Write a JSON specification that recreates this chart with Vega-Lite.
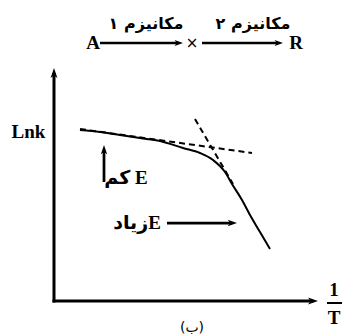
{
  "$schema": "https://vega.github.io/schema/vega-lite/v6.json",
  "width": 347,
  "height": 336,
  "padding": 0,
  "autosize": {"type": "fit", "contains": "padding"},
  "background": "white",
  "config": {"view": {"stroke": null}},
  "datasets": {
    "curve": [
      {"x": 2.6, "y": 17.1},
      {"x": 4.6, "y": 16.9},
      {"x": 6.6, "y": 16.6},
      {"x": 8.6, "y": 16.3},
      {"x": 10.6, "y": 16.0},
      {"x": 12.9, "y": 15.3},
      {"x": 14.6, "y": 14.8},
      {"x": 15.9, "y": 14.1},
      {"x": 17.1, "y": 12.9},
      {"x": 17.8, "y": 11.7},
      {"x": 18.8, "y": 10.1},
      {"x": 19.6, "y": 8.6},
      {"x": 20.6, "y": 6.9},
      {"x": 21.6, "y": 5.2}
    ],
    "tangents": [
      {"line": "low", "x": 2.6, "y": 17.2},
      {"line": "low", "x": 19.8, "y": 14.8},
      {"line": "high", "x": 14.1, "y": 18.2},
      {"line": "high", "x": 17.9, "y": 11.7}
    ],
    "arrows": [
      {"name": "lnk-axis", "kind": "axis", "dir": "up", "x1": 0, "y1": -0.15, "x2": 0, "y2": 23.3},
      {"name": "inv-t-axis", "kind": "axis", "dir": "right", "x1": -0.15, "y1": 0, "x2": 26.4, "y2": 0},
      {"name": "low-e", "kind": "note", "dir": "up", "x1": 5.0, "y1": 11.9, "x2": 5.0, "y2": 15.6},
      {"name": "high-e", "kind": "note", "dir": "right", "x1": 11.3, "y1": 7.8, "x2": 18.3, "y2": 7.8},
      {"name": "step-1", "kind": "title", "dir": "right", "x1": 4.6, "y1": 25.8, "x2": 12.9, "y2": 25.8},
      {"name": "step-2", "kind": "title", "dir": "right", "x1": 14.8, "y1": 25.8, "x2": 22.9, "y2": 25.8}
    ],
    "fraction": [{"x1": 27.3, "x2": 28.8, "y": -0.2}],
    "labels": [
      {"role": "latin", "text": "A", "x": 3.9, "y": 25.8},
      {"role": "latin", "text": "R", "x": 24.2, "y": 25.8},
      {"role": "latin", "text": "Lnk", "x": -2.55, "y": 16.9},
      {"role": "latin", "text": "1", "x": 28.0, "y": 1.1},
      {"role": "latin", "text": "T", "x": 28.0, "y": -1.7},
      {"role": "cross", "text": "×", "x": 13.8, "y": 25.8},
      {"role": "persian", "text": "مکانیزم ۱", "x": 9.2, "y": 27.7},
      {"role": "persian", "text": "مکانیزم ۲", "x": 19.9, "y": 27.7},
      {"role": "note", "text": "کم E", "x": 7.2, "y": 12.3},
      {"role": "note", "text": "زیادE", "x": 8.3, "y": 7.8},
      {"role": "caption", "text": "(ب)", "x": 13.8, "y": -2.7}
    ]
  },
  "encoding": {
    "x": {"field": "x", "type": "quantitative", "scale": {"domain": [-5.4, 29.3], "nice": false, "zero": false}, "axis": null},
    "y": {"field": "y", "type": "quantitative", "scale": {"domain": [-3.5, 30.1], "nice": false, "zero": false}, "axis": null}
  },
  "layer": [
    {
      "data": {"name": "curve"},
      "mark": {"type": "line", "interpolate": "monotone", "color": "black", "strokeWidth": 2}
    },
    {
      "data": {"name": "tangents"},
      "mark": {"type": "line", "color": "black", "strokeWidth": 2, "strokeDash": [6, 4]},
      "encoding": {"detail": {"field": "line"}}
    },
    {
      "data": {"name": "arrows"},
      "transform": [{"filter": "datum.dir === 'up'"}],
      "mark": {"type": "rule", "color": "black", "strokeCap": "butt", "y2Offset": 5},
      "encoding": {
        "x": {"field": "x1", "type": "quantitative"},
        "y": {"field": "y1", "type": "quantitative"},
        "x2": {"field": "x2"},
        "y2": {"field": "y2"},
        "strokeWidth": {"field": "kind", "type": "nominal", "scale": {"domain": ["axis", "note", "title"], "range": [3, 2.5, 2]}, "legend": null}
      }
    },
    {
      "data": {"name": "arrows"},
      "transform": [{"filter": "datum.dir === 'right'"}],
      "mark": {"type": "rule", "color": "black", "strokeCap": "butt", "x2Offset": -5},
      "encoding": {
        "x": {"field": "x1", "type": "quantitative"},
        "y": {"field": "y1", "type": "quantitative"},
        "x2": {"field": "x2"},
        "y2": {"field": "y2"},
        "strokeWidth": {"field": "kind", "type": "nominal", "scale": {"domain": ["axis", "note", "title"], "range": [3, 2.5, 2]}, "legend": null}
      }
    },
    {
      "data": {"name": "arrows"},
      "transform": [{"filter": "datum.dir === 'up'"}],
      "mark": {"type": "point", "filled": true, "color": "black", "opacity": 1, "shape": "M0,0L-0.55,1.6L0,1.2L0.55,1.6Z", "angle": 0},
      "encoding": {
        "x": {"field": "x2", "type": "quantitative"},
        "y": {"field": "y2", "type": "quantitative"},
        "size": {"field": "kind", "type": "nominal", "scale": {"domain": ["axis", "note", "title"], "range": [156, 110, 100]}, "legend": null}
      }
    },
    {
      "data": {"name": "arrows"},
      "transform": [{"filter": "datum.dir === 'right'"}],
      "mark": {"type": "point", "filled": true, "color": "black", "opacity": 1, "shape": "M0,0L-0.55,1.6L0,1.2L0.55,1.6Z", "angle": 90},
      "encoding": {
        "x": {"field": "x2", "type": "quantitative"},
        "y": {"field": "y2", "type": "quantitative"},
        "size": {"field": "kind", "type": "nominal", "scale": {"domain": ["axis", "note", "title"], "range": [156, 110, 100]}, "legend": null}
      }
    },
    {
      "data": {"name": "fraction"},
      "mark": {"type": "rule", "color": "black", "strokeWidth": 2},
      "encoding": {
        "x": {"field": "x1", "type": "quantitative"},
        "x2": {"field": "x2"},
        "y": {"field": "y", "type": "quantitative"}
      }
    },
    {
      "data": {"name": "labels"},
      "transform": [{"filter": "datum.role === 'latin'"}],
      "mark": {"type": "text", "font": "Liberation Serif", "fontWeight": "bold", "fontSize": 19, "baseline": "middle", "align": "center", "color": "black"},
      "encoding": {"text": {"field": "text"}}
    },
    {
      "data": {"name": "labels"},
      "transform": [{"filter": "datum.role === 'cross'"}],
      "mark": {"type": "text", "font": "DejaVu Sans", "fontSize": 15, "baseline": "middle", "align": "center", "color": "black"},
      "encoding": {"text": {"field": "text"}}
    },
    {
      "data": {"name": "labels"},
      "transform": [{"filter": "datum.role === 'persian'"}],
      "mark": {"type": "text", "font": "DejaVu Sans", "fontWeight": "bold", "fontSize": 16, "baseline": "middle", "align": "center", "color": "black"},
      "encoding": {"text": {"field": "text"}}
    },
    {
      "data": {"name": "labels"},
      "transform": [{"filter": "datum.role === 'note'"}],
      "mark": {"type": "text", "font": "Liberation Serif, DejaVu Sans", "fontWeight": "bold", "fontSize": 19, "baseline": "middle", "align": "center", "color": "black"},
      "encoding": {"text": {"field": "text"}}
    },
    {
      "data": {"name": "labels"},
      "transform": [{"filter": "datum.role === 'caption'"}],
      "mark": {"type": "text", "font": "DejaVu Sans", "fontSize": 14, "baseline": "middle", "align": "center", "color": "black"},
      "encoding": {"text": {"field": "text"}}
    }
  ]
}
